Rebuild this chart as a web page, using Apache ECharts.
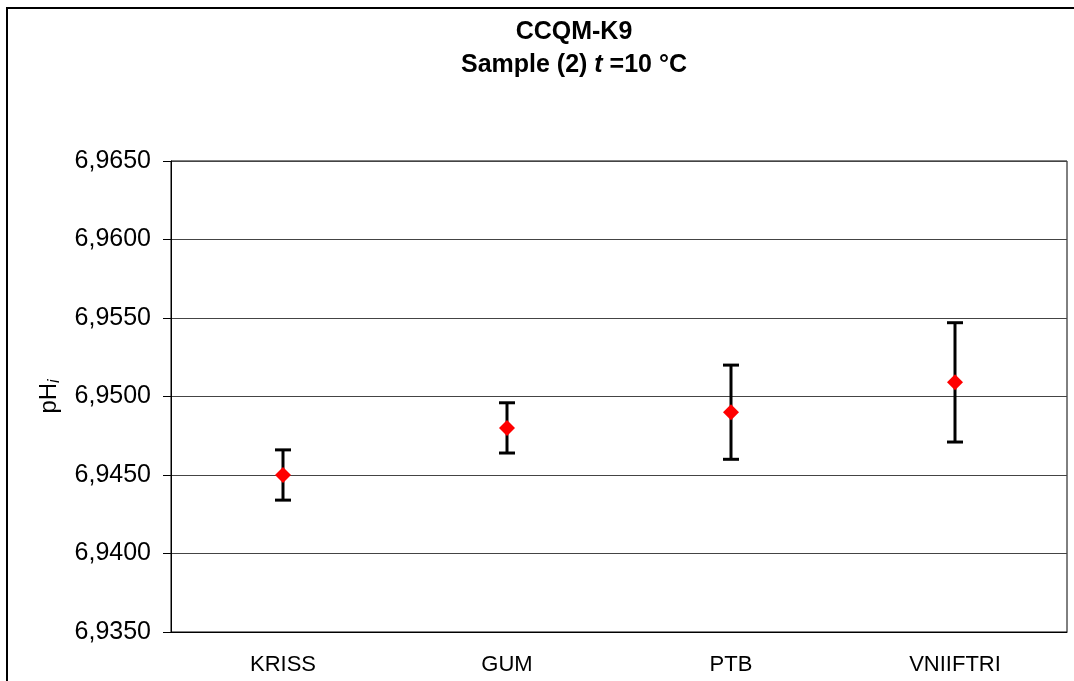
<!DOCTYPE html>
<html>
<head>
<meta charset="utf-8">
<script src="https://cdn.jsdelivr.net/npm/echarts@6/dist/echarts.min.js"></script>
<style>
html,body{margin:0;padding:0;background:#fff;}
#chart{width:1074px;height:681px;}
</style>
</head>
<body>
<div id="chart"></div>
<script>
var categories = ['KRISS', 'GUM', 'PTB', 'VNIIFTRI'];
var phValues = [6.9450, 6.9480, 6.9490, 6.9509];
var uncertainties = [0.0016, 0.0016, 0.0030, 0.0038];
var yTicks = { min: 6.935, max: 6.965, interval: 0.005 };

var errorData = categories.map(function (c, i) {
  return [i, phValues[i] - uncertainties[i], phValues[i] + uncertainties[i]];
});
var pointData = categories.map(function (c, i) { return [i, phValues[i]]; });

var FONT = 'Liberation Sans, Arial, sans-serif';
var chart = echarts.init(document.getElementById('chart'));
chart.setOption({
  backgroundColor: '#fff',
  animation: false,
  title: {
    text: 'CCQM-K9\n{n|Sample (2) }{i|t}{n| =10 °C}',
    left: 569,
    top: 11,
    textAlign: 'center',
    textStyle: {
      fontFamily: FONT, fontSize: 25, fontWeight: 'bold', color: '#000', lineHeight: 33,
      rich: {
        n: { fontFamily: FONT, fontSize: 25, fontWeight: 'bold', color: '#000', lineHeight: 33 },
        i: { fontFamily: FONT, fontSize: 25, fontWeight: 'bold', fontStyle: 'italic', color: '#000', lineHeight: 33 }
      }
    }
  },
  graphic: [{
    type: 'rect', silent: true, z: -1,
    shape: { x: 7, y: 8, width: 1100, height: 720 },
    style: { fill: 'none', stroke: '#000', lineWidth: 2 }
  }],
  grid: {
    left: 171, top: 161, right: 7, bottom: 49,
    show: true, borderColor: '#000', borderWidth: 1, backgroundColor: '#fff'
  },
  xAxis: {
    type: 'category',
    data: categories,
    boundaryGap: true,
    axisLine: { show: true, lineStyle: { color: '#000', width: 1 } },
    axisTick: { show: false },
    axisLabel: { fontFamily: FONT, fontSize: 22, color: '#000', margin: 22 },
    splitLine: { show: false }
  },
  yAxis: {
    type: 'value',
    min: yTicks.min, max: yTicks.max, interval: yTicks.interval,
    name: '{b|pH}{s|i}',
    nameLocation: 'middle',
    nameRotate: 90,
    nameGap: 108,
    nameTextStyle: {
      fontFamily: FONT, fontSize: 24, color: '#000',
      rich: {
        b: { fontFamily: FONT, fontSize: 24, color: '#000', lineHeight: 28 },
        s: { fontFamily: FONT, fontSize: 16, fontStyle: 'italic', color: '#000', verticalAlign: 'bottom', lineHeight: 20 }
      }
    },
    axisLine: { show: true, lineStyle: { color: '#000', width: 1 } },
    axisTick: { show: true, inside: false, length: 8, lineStyle: { color: '#000' } },
    axisLabel: {
      fontFamily: FONT, fontSize: 25, color: '#000', margin: 20,
      formatter: function (v) { return v.toFixed(4).replace('.', ','); }
    },
    splitLine: { show: true, lineStyle: { color: '#444', width: 1 } }
  },
  series: [{
    type: 'custom',
    name: 'uncertainty',
    data: errorData,
    z: 2,
    renderItem: function (params, api) {
      var x = api.value(0);
      var lo = api.coord([x, api.value(1)]);
      var hi = api.coord([x, api.value(2)]);
      var hw = 8;
      var st = { stroke: '#000', lineWidth: 3 };
      return {
        type: 'group',
        children: [
          { type: 'line', shape: { x1: lo[0], y1: lo[1], x2: hi[0], y2: hi[1] }, style: st },
          { type: 'line', shape: { x1: lo[0] - hw, y1: lo[1], x2: lo[0] + hw, y2: lo[1] }, style: st },
          { type: 'line', shape: { x1: hi[0] - hw, y1: hi[1], x2: hi[0] + hw, y2: hi[1] }, style: st }
        ]
      };
    }
  }, {
    type: 'scatter',
    name: 'pH',
    data: pointData,
    symbol: 'diamond',
    symbolSize: 16,
    z: 3,
    itemStyle: { color: '#ff0000', opacity: 1 }
  }]
});
</script>
</body>
</html>
